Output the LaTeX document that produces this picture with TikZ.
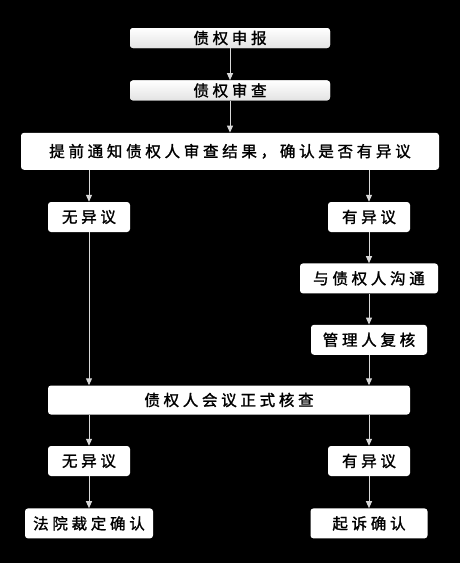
\documentclass[tikz,border=0pt]{standalone}
\usepackage{fontspec}
\newfontfamily\cjkfont[LetterSpace=24,FakeBold=1.5]{Noto Sans CJK SC}
\usetikzlibrary{arrows.meta,positioning}

\begin{document}
\begin{tikzpicture}[
  x=1pt, y=1pt,
  node distance=32pt,
  font=\cjkfont\fontsize{15.5pt}{17pt}\selectfont,
  box/.style={fill=white, rounded corners=3pt, align=center, inner sep=0pt, minimum height=30pt},
  topbox/.style={box, top color=white, bottom color=gray!22, minimum width=200pt, minimum height=20pt},
  arrow/.style={-{Triangle[length=7pt,width=6pt]}, draw=gray!30, line width=1pt}
]
\fill[black] (0,0) rectangle (460,-563);

\node[topbox] (shenbao) at (230,-38) {债权申报};
\node[topbox, below=of shenbao] (shencha) {债权审查};
\node[box, below=of shencha, minimum width=418pt, minimum height=37pt] (tongzhi) {提前通知债权人审查结果，确认是否有异议};
\node[box, minimum width=82pt] (wuyi) at (89,-217) {无异议};
\node[box, minimum width=82pt] (youyi) at (369,-217) {有异议};
\node[box, below=31pt of youyi, minimum width=138pt] (goutong) {与债权人沟通};
\node[box, below=31pt of goutong, minimum width=116pt] (fuhe) {管理人复核};
\node[box, minimum width=362pt, minimum height=29pt] (huiyi) at (229,-400) {债权人会议正式核查};
\node[box, minimum width=82pt] (wuyi2) at (89,-461) {无异议};
\node[box, minimum width=82pt] (youyi2) at (369,-461) {有异议};
\node[box, below=of wuyi2, minimum width=128pt] (caiding) {法院裁定确认};
\node[box, below=of youyi2, minimum width=117pt] (qisu) {起诉确认};

\draw[arrow] (shenbao) -- (shencha);
\draw[arrow] (shencha) -- (tongzhi);
\draw[arrow] (tongzhi.south -| wuyi) -- (wuyi);
\draw[arrow] (tongzhi.south -| youyi) -- (youyi);
\draw[arrow] (youyi) -- (goutong);
\draw[arrow] (goutong) -- (fuhe);
\draw[arrow] (wuyi) -- (huiyi.north -| wuyi);
\draw[arrow] (fuhe) -- (huiyi.north -| fuhe);
\draw[arrow] (huiyi.south -| wuyi2) -- (wuyi2);
\draw[arrow] (huiyi.south -| youyi2) -- (youyi2);
\draw[arrow] (wuyi2) -- (caiding);
\draw[arrow] (youyi2) -- (qisu);
\end{tikzpicture}
\end{document}
